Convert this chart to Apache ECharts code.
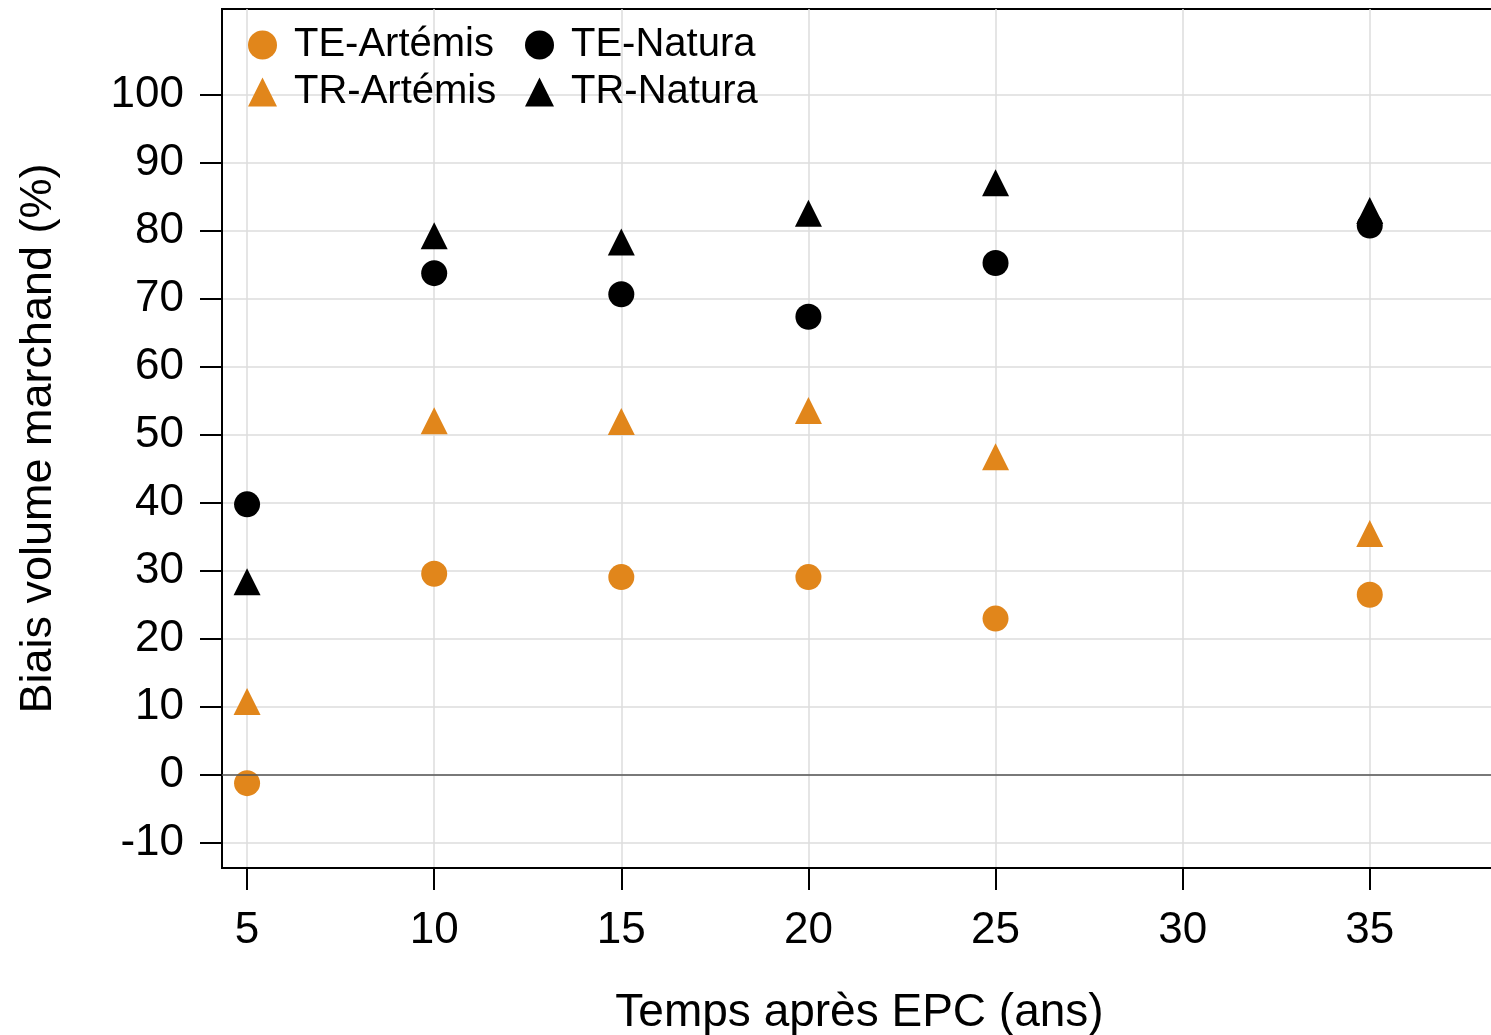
<!DOCTYPE html>
<html>
<head>
<meta charset="utf-8">
<title>Biais volume marchand</title>
<script src="https://cdn.jsdelivr.net/npm/echarts@6/dist/echarts.min.js"></script>
<style>
  html, body { margin: 0; padding: 0; background: #fff; }
  #chart { width: 1491px; height: 1035px; }
</style>
</head>
<body>
<div id="chart"></div>
<script>
// 数据
const years = [5, 10, 15, 20, 25, 35];
const teArtemis = [-1.2, 29.6, 29.1, 29.1, 23.0, 26.5];
const trArtemis = [10.8, 52.1, 52.0, 53.6, 46.8, 35.5];
const teNatura = [39.8, 73.8, 70.7, 67.4, 75.3, 80.8];
const trNatura = [28.4, 79.3, 78.4, 82.6, 87.1, 83.0];

// 刻度
const xTicks = [5, 10, 15, 20, 25, 30, 35];
const yTicks = [-10, 0, 10, 20, 30, 40, 50, 60, 70, 80, 90, 100];

const orange = '#E1861B';
const black = '#000000';
const font = 'Liberation Sans, Arial, sans-serif';

const pairs = vals => years.map((x, i) => [x, vals[i]]);

const chart = echarts.init(document.getElementById('chart'));

// 图例：每个条目单独放置
function legendAt(name, left, top) {
    return {
        data: [name],
        left: left,
        top: top,
        padding: 0,
        itemWidth: 29,
        itemHeight: 29,
        selectedMode: false,
        textStyle: { fontSize: 40, color: '#000', fontFamily: font, padding: [0, 0, 0, 12] }
    };
}

chart.setOption({
    animation: false,
    backgroundColor: '#fff',
    grid: {
        left: 222, top: 9, right: -6, bottom: 167,
        outerBoundsMode: 'none',
        show: true, borderColor: '#000', borderWidth: 2
    },
    legend: [
        legendAt('TE-Artémis', 248, 25),
        legendAt('TR-Artémis', 248, 72),
        legendAt('TE-Natura', 525, 25),
        legendAt('TR-Natura', 525, 72)
    ],
    xAxis: {
        type: 'value',
        min: 4.33,
        max: 38.4,
        name: 'Temps après EPC (ans)',
        nameLocation: 'middle',
        nameGap: 122,
        nameTextStyle: { fontSize: 46, color: '#000', fontFamily: font },
        axisLine: { show: true, onZero: false, lineStyle: { color: '#000', width: 2 } },
        axisTick: { show: true, length: 22, customValues: xTicks, lineStyle: { color: '#000', width: 2 } },
        axisLabel: { customValues: xTicks, fontSize: 44, color: '#000', fontFamily: font, margin: 41 },
        splitLine: { show: true, lineStyle: { color: '#dcdcdc', width: 1.5 } }
    },
    yAxis: {
        type: 'value',
        min: -13.68,
        max: 112.65,
        name: 'Biais volume marchand (%)',
        nameLocation: 'middle',
        nameGap: 161,
        nameTextStyle: { fontSize: 45, color: '#000', fontFamily: font },
        axisLine: { show: true, onZero: false, lineStyle: { color: '#000', width: 2 } },
        axisTick: { show: true, length: 22, customValues: yTicks, lineStyle: { color: '#000', width: 2 } },
        axisLabel: { customValues: yTicks, fontSize: 44, color: '#000', fontFamily: font, margin: 38 },
        splitLine: { show: true, lineStyle: { color: '#dcdcdc', width: 1.5 } }
    },
    series: [
        {
            // 零线
            name: 'zero',
            type: 'line',
            data: [],
            z: 1,
            markLine: {
                silent: true,
                symbol: 'none',
                label: { show: false },
                lineStyle: { color: '#555', width: 1.5, type: 'solid' },
                data: [{ yAxis: 0 }]
            }
        },
        { name: 'TE-Artémis', type: 'scatter', symbol: 'circle', symbolSize: 26, z: 3,
          itemStyle: { color: orange, opacity: 1 }, data: pairs(teArtemis) },
        { name: 'TR-Artémis', type: 'scatter', symbol: 'triangle', symbolSize: 27, z: 3,
          itemStyle: { color: orange, opacity: 1 }, data: pairs(trArtemis) },
        { name: 'TR-Natura', type: 'scatter', symbol: 'triangle', symbolSize: 27, z: 3,
          itemStyle: { color: black, opacity: 1 }, data: pairs(trNatura) },
        { name: 'TE-Natura', type: 'scatter', symbol: 'circle', symbolSize: 26, z: 3,
          itemStyle: { color: black, opacity: 1 }, data: pairs(teNatura) }
    ]
});
</script>
</body>
</html>
